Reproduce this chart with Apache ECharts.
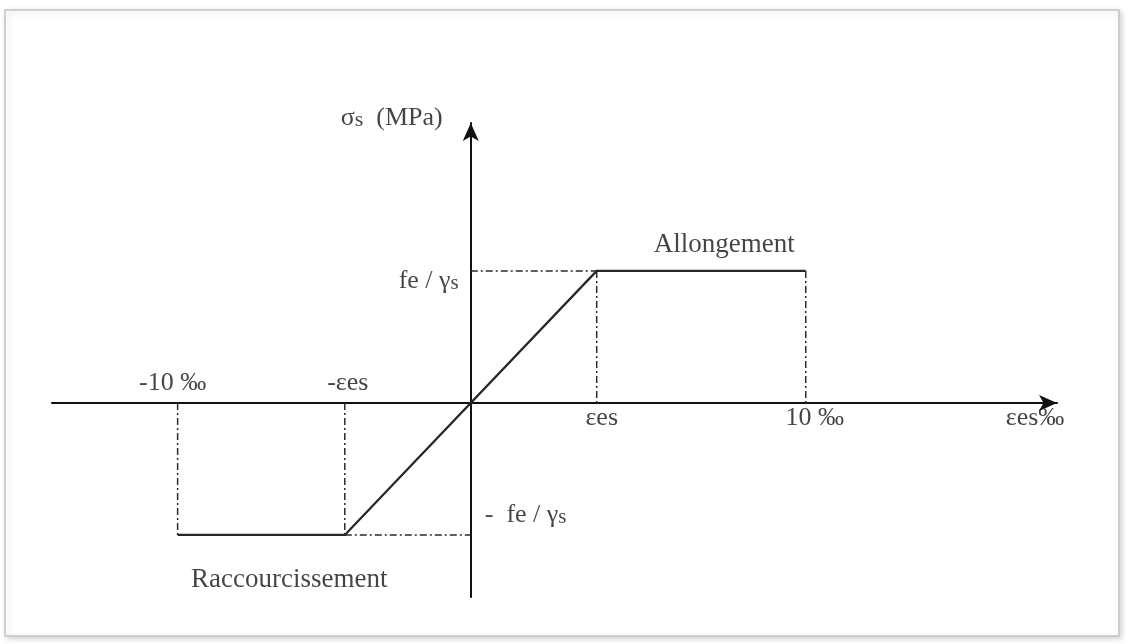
<!DOCTYPE html>
<html>
<head>
<meta charset="utf-8">
<script src="https://cdn.jsdelivr.net/npm/echarts@6/dist/echarts.min.js"></script>
<style>
html,body{margin:0;padding:0;background:#ffffff;}
#chart{width:1126px;height:644px;}
</style>
</head>
<body>
<div id="chart"></div>
<script>
// Schematic values (x in drawing units of ‰, y in units of fe/γs)
const strainMarks = [-8.75, -3.76, 3.76, 10];          // -10‰, -εes, εes, 10‰
const strainLabels = ['-10 ‰', '-εes', 'εes', '10 ‰'];
const stressLevels = [-1, 1];                           // -fe/γs, fe/γs
const curveX = [-8.75, -3.76, 3.76, 10];
const curveY = [-1, -1, 1, 1];
const xRange = [-12.5, 17.5];
const yRange = [-1.47, 2.12];

const FONT = '"Liberation Serif", "Times New Roman", serif';
const INK = '#151515';

const curveData = curveX.map((x, i) => [x, curveY[i]]);
const lo = stressLevels[0], hi = stressLevels[1];
const [n10, nEps, pEps, p10] = strainMarks;
const guides = [
  [[n10, 0], [n10, lo]],
  [[nEps, 0], [nEps, lo]],
  [[nEps, lo], [0, lo]],
  [[0, hi], [pEps, hi]],
  [[pEps, hi], [pEps, 0]],
  [[p10, hi], [p10, 0]]
];

function lbl(value, text, opts) {
  return {
    value: value,
    label: Object.assign({
      show: true, formatter: text, fontFamily: FONT, fontSize: 26, color: INK,
      align: 'center', verticalAlign: 'middle', position: 'inside',
      rich: {
        b: { fontFamily: FONT, fontSize: 26, color: INK },
        s: { fontFamily: FONT, fontSize: 21, color: INK, padding: [6, 0, 0, 0] }
      }
    }, opts)
  };
}

const labelData = [
  lbl([strainMarks[0], 0], strainLabels[0], { offset: [-5, -20] }),
  lbl([strainMarks[1], 0], strainLabels[1], { offset: [3, -20] }),
  lbl([strainMarks[2], 0], strainLabels[2], { offset: [5, 15] }),
  lbl([strainMarks[3], 0], strainLabels[3], { offset: [9, 15] }),
  lbl([xRange[1], 0], 'εes‰', { offset: [-22, 15] }),
  lbl([0, hi], '{b|fe / γ}{s|s}', { align: 'right', offset: [-12, 10] }),
  lbl([0, lo], '{b|-  fe / γ}{s|s}', { align: 'left', offset: [14, -20] }),
  lbl([0, yRange[1]], '{b|σ}{s|s}{b|  (MPa)}', { align: 'right', offset: [-28, -5], rich: {
      b: { fontFamily: FONT, fontSize: 26, color: INK },
      s: { fontFamily: FONT, fontSize: 22, color: INK, padding: [4, 0, 0, 0] } } }),
  lbl([(pEps + p10) / 2, hi], 'Allongement', { fontSize: 27, offset: [23, -26] }),
  lbl([(n10 + nEps) / 2, lo], 'Raccourcissement', { fontSize: 27, offset: [28, 45] })
];

const series = [];
guides.forEach((seg, i) => {
  series.push({
    type: 'line', name: 'guide' + i, data: seg, symbol: 'none', silent: true,
    lineStyle: { color: '#2a2a2a', width: 1.5, type: [7, 3, 2, 3] }, z: 3
  });
});
series.push({
  type: 'line', name: 'curve', data: curveData, symbol: 'none',
  lineStyle: { color: '#262626', width: 2.2 }, z: 4
});
series.push({
  type: 'scatter', name: 'labels', data: labelData, symbolSize: 0, silent: true, z: 6
});

const chart = echarts.init(document.getElementById('chart'), null, { renderer: 'canvas' });
chart.setOption({
  animation: false,
  backgroundColor: 'transparent',
  graphic: [{
    type: 'rect', z: -100, silent: true,
    shape: { x: 5, y: 10, width: 1114, height: 626 },
    style: { fill: '#ffffff', stroke: '#c4c4c4', lineWidth: 1.5,
             shadowBlur: 6, shadowColor: 'rgba(0,0,0,0.18)', shadowOffsetX: 2, shadowOffsetY: 2 }
  }],
  grid: { left: 52, right: 69, top: 123, bottom: 47, containLabel: false },
  xAxis: {
    type: 'value', min: xRange[0], max: xRange[1],
    axisLine: { show: true, onZero: true, symbol: ['none', 'arrow'], symbolSize: [12, 18],
                lineStyle: { color: '#111', width: 2 } },
    axisTick: { show: false }, axisLabel: { show: false }, splitLine: { show: false }
  },
  yAxis: {
    type: 'value', min: yRange[0], max: yRange[1],
    axisLine: { show: true, onZero: true, symbol: ['none', 'arrow'], symbolSize: [12, 18],
                lineStyle: { color: '#111', width: 2 } },
    axisTick: { show: false }, axisLabel: { show: false }, splitLine: { show: false }
  },
  series: series
});
</script>
</body>
</html>
